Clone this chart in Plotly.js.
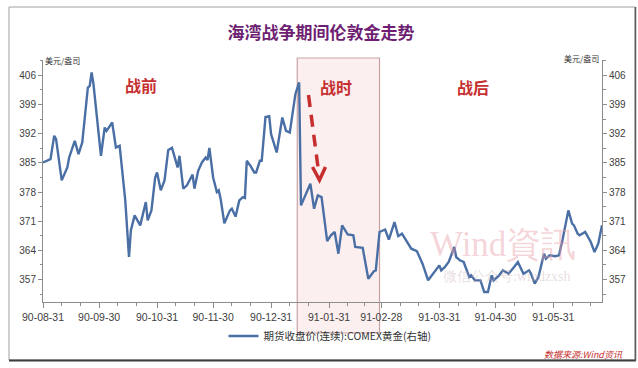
<!DOCTYPE html>
<html>
<head>
<meta charset="utf-8">
<script src="https://cdn.plot.ly/plotly-3.0.1.min.js"></script>
<style>html,body{margin:0;padding:0;background:#fff;}#chart{width:638px;height:368px;}</style>
</head>
<body>
<div id="chart"></div>
<script>
// ---- data ----
const dates = [
'1990-08-31','1990-09-04','1990-09-06','1990-09-07','1990-09-10','1990-09-13','1990-09-14','1990-09-17','1990-09-19','1990-09-21',
'1990-09-24','1990-09-25','1990-09-26','1990-09-27','1990-10-01','1990-10-03','1990-10-04','1990-10-07','1990-10-09','1990-10-11',
'1990-10-14','1990-10-16','1990-10-17','1990-10-19','1990-10-22','1990-10-25','1990-10-26','1990-10-28','1990-10-30','1990-10-31',
'1990-11-02','1990-11-04','1990-11-06','1990-11-08','1990-11-10','1990-11-11','1990-11-12','1990-11-14','1990-11-16','1990-11-19',
'1990-11-20','1990-11-22','1990-11-24','1990-11-26','1990-11-27','1990-11-28','1990-11-30','1990-12-02','1990-12-03','1990-12-04',
'1990-12-06','1990-12-09','1990-12-10','1990-12-12','1990-12-14','1990-12-16','1990-12-17','1990-12-18','1990-12-20','1990-12-22',
'1990-12-23','1990-12-25','1990-12-26','1990-12-28','1990-12-30','1990-12-31','1991-01-03','1991-01-06','1991-01-08','1991-01-10',
'1991-01-13','1991-01-15','1991-01-16','1991-01-21','1991-01-23','1991-01-25','1991-01-27','1991-01-30','1991-02-01','1991-02-03',
'1991-02-05','1991-02-07','1991-02-10','1991-02-13','1991-02-14','1991-02-18','1991-02-21','1991-02-24','1991-02-25','1991-02-27',
'1991-03-02','1991-03-04','1991-03-07','1991-03-09','1991-03-11','1991-03-14','1991-03-16','1991-03-19','1991-03-21','1991-03-22',
'1991-03-25','1991-03-28','1991-03-31','1991-04-01','1991-04-03','1991-04-05','1991-04-08','1991-04-09','1991-04-11','1991-04-13',
'1991-04-16','1991-04-17','1991-04-19','1991-04-22','1991-04-24','1991-04-26','1991-04-28','1991-04-29','1991-05-02','1991-05-04',
'1991-05-07','1991-05-10','1991-05-12','1991-05-15','1991-05-18','1991-05-19','1991-05-21','1991-05-23','1991-05-26','1991-05-27',
'1991-05-29','1991-06-01','1991-06-03','1991-06-05','1991-06-08','1991-06-10','1991-06-11','1991-06-13','1991-06-14','1991-06-17',
'1991-06-20','1991-06-22','1991-06-24','1991-06-26'
];
const goldClose = [
385.1,385.9,391.5,390.7,380.8,383.9,386.3,390.3,387.1,389.9,
403.1,403.5,406.7,403.9,386.7,393.5,392.7,394.7,388.7,389.1,
376.0,362.4,368.8,372.4,370.0,375.6,371.2,373.6,381.5,382.7,
378.4,380.8,388.1,388.6,385.5,383.9,386.7,378.8,379.6,382.2,
378.8,383.1,385.1,386.3,385.7,388.6,381.5,378.0,378.4,376.4,
370.5,373.6,374.0,372.1,376.0,376.8,376.6,385.5,384.3,382.7,
382.7,385.5,385.5,396.0,396.2,391.9,387.5,395.9,392.7,392.3,
401.5,404.3,374.8,380.0,374.0,377.2,376.8,366.2,367.6,368.4,
363.2,370.0,367.8,367.6,364.8,364.6,357.2,359.0,359.2,368.4,
369.0,366.6,370.8,367.4,368.0,366.0,364.4,363.8,362.0,360.8,
356.8,358.6,360.4,359.2,360.0,361.2,364.8,362.4,361.6,361.2,
357.6,358.0,356.8,356.8,354.0,354.0,358.0,356.8,358.0,359.2,
358.4,360.0,361.2,358.4,359.2,358.4,356.0,357.6,363.2,362.0,
362.8,362.6,362.8,366.8,373.6,370.4,370.0,368.0,367.6,368.4,
366.0,363.6,365.6,370.0
];
const tickDates = ['1990-08-31','1990-09-30','1990-10-31','1990-11-30','1990-12-31','1991-01-31','1991-02-28','1991-03-31','1991-04-30','1991-05-31'];
const tickLabels = ['90-08-31','90-09-30','90-10-31','90-11-30','90-12-31','91-01-31','91-02-28','91-03-31','91-04-30','91-05-31'];
const minorDates = ['1990-09-10','1990-09-20','1990-10-10','1990-10-20','1990-11-10','1990-11-20','1990-12-10','1990-12-20',
'1991-01-10','1991-01-20','1991-02-10','1991-02-19','1991-03-10','1991-03-20','1991-04-10','1991-04-20','1991-05-10','1991-05-20','1991-06-10','1991-06-20'];
const warStart = '1991-01-14', warEnd = '1991-02-27';
const seriesName = '期货收盘价(连续):COMEX黄金(右轴)';

// ---- layout helpers (pixel -> paper) ----
const L = 43, R = 602, T = 60, B = 302;
const X = px => (px - L) / (R - L);
const Y = py => (B - py) / (B - T);

const axisCommon = {
  showgrid: false, zeroline: false, showline: true, linecolor: '#8c8c8c', linewidth: 1,
  ticks: 'outside', tickcolor: '#8c8c8c', tickwidth: 1
};
const yCommon = Object.assign({}, axisCommon, {
  range: [351.6, 409.7], tickmode: 'linear', tick0: 357, dtick: 7, ticklen: 4,
  tickfont: {family: 'Liberation Sans', size: 10, color: '#404040'},
  minor: {tickmode: 'linear', tick0: 357, dtick: 3.5, ticks: 'outside', ticklen: 2.5, tickcolor: '#8c8c8c', showgrid: false}
});

const traces = [
  {x: dates, y: goldClose, type: 'scatter', mode: 'lines', yaxis: 'y', showlegend: false,
   hoverinfo: 'skip', line: {width: 0, color: 'rgba(0,0,0,0)'}},
  {x: dates, y: goldClose, type: 'scatter', mode: 'lines', yaxis: 'y2', name: seriesName,
   line: {color: '#4a6fa5', width: 2.4}}
];

const red = '#c62f2f';
function note(text, px, py, font, xa, ya) {
  return {text: text, xref: 'paper', yref: 'paper', x: X(px), y: Y(py), showarrow: false,
          xanchor: xa || 'center', yanchor: ya || 'middle', font: font};
}
const layout = {
  width: 638, height: 368,
  margin: {l: L, r: 638 - R, t: T, b: 368 - B},
  paper_bgcolor: '#ffffff', plot_bgcolor: 'rgba(0,0,0,0)',
  font: {family: 'Noto Sans CJK SC, Liberation Sans, sans-serif'},
  title: {text: '<b>海湾战争期间伦敦金走势</b>', x: 321/638, xanchor: 'center', y: 1 - 33/368, yanchor: 'middle',
          font: {size: 17, color: '#6e1f72', family: 'Noto Sans CJK SC'}},
  xaxis: Object.assign({}, axisCommon, {
    type: 'date', range: ['1990-08-31', '1991-06-26'],
    tickmode: 'array', tickvals: tickDates, ticktext: tickLabels, ticklen: 5,
    tickfont: {family: 'Liberation Sans', size: 10.5, color: '#404040'},
    minor: {tickmode: 'array', tickvals: minorDates, ticks: 'outside', ticklen: 3, tickcolor: '#8c8c8c', showgrid: false}
  }),
  yaxis: Object.assign({}, yCommon, {side: 'left'}),
  yaxis2: Object.assign({}, yCommon, {side: 'right', overlaying: 'y'}),
  showlegend: true,
  legend: {orientation: 'h', x: X(330), xanchor: 'center', y: Y(336), yanchor: 'middle',
           font: {size: 10.5, color: '#333', family: 'Noto Sans CJK SC'}, bgcolor: 'rgba(0,0,0,0)'},
  shapes: [
    {type: 'rect', xref: 'x', yref: 'paper', x0: warStart, x1: warEnd, y0: Y(333), y1: Y(58),
     fillcolor: '#fcefef', line: {color: '#c9a3a3', width: 1.2}, layer: 'below'},
    // dashed arrow
    {type: 'path', xref: 'paper', yref: 'paper',
     path: `M ${X(308.5)},${Y(95)} L ${X(318.5)},${Y(171)}`,
     line: {color: red, width: 3.5, dash: '12px,8px'}},
    {type: 'path', xref: 'paper', yref: 'paper',
     path: `M ${X(312.5)},${Y(167)} L ${X(319.5)},${Y(180)} L ${X(325.5)},${Y(167)}`,
     line: {color: red, width: 3.5}},
    // frame
    {type: 'rect', xref: 'paper', yref: 'paper', x0: X(9), x1: X(635), y0: Y(360), y1: Y(7),
     line: {color: '#a0a0a0', width: 1}, fillcolor: 'rgba(0,0,0,0)'},
    {type: 'line', xref: 'paper', yref: 'paper', x0: X(9), x1: X(636), y0: Y(360.5), y1: Y(360.5),
     line: {color: '#3c3c3c', width: 2}},
    {type: 'line', xref: 'paper', yref: 'paper', x0: X(635.5), x1: X(635.5), y0: Y(361), y1: Y(7),
     line: {color: '#5a5a5a', width: 1.5}}
  ],
  annotations: [
    note('<b>战前</b>', 141, 85, {size: 16, color: red, family: 'Noto Sans CJK SC'}),
    note('<b>战时</b>', 336, 87, {size: 16, color: red, family: 'Noto Sans CJK SC'}),
    note('<b>战后</b>', 473, 87, {size: 16, color: red, family: 'Noto Sans CJK SC'}),
    note('美元/盎司', 43, 60, {size: 8, color: '#333', family: 'Noto Sans CJK SC'}, 'left'),
    note('美元/盎司', 601, 58, {size: 8, color: '#333', family: 'Noto Sans CJK SC'}, 'right'),
    note('Wind資訊', 503, 244, {size: 35, color: 'rgba(232,160,172,0.45)', family: 'Liberation Serif'}),
    note('微信公众号:windzxsh', 507, 276, {size: 14, color: 'rgba(200,170,180,0.4)', family: 'Liberation Serif'}),
    note('数据来源:Wind资讯', 625, 354, {size: 9, color: red, family: 'Noto Sans CJK SC', style: 'italic'}, 'right')
  ]
};

Plotly.newPlot('chart', traces, layout, {displayModeBar: false, staticPlot: true});
</script>
</body>
</html>
